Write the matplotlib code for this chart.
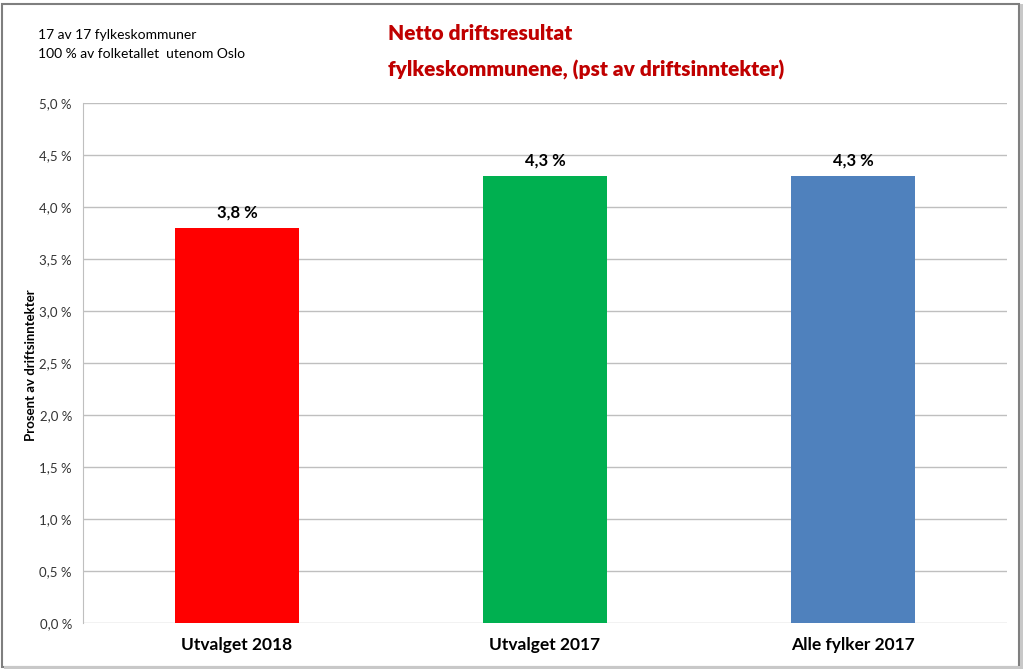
import numpy as np
import matplotlib.pyplot as plt
from matplotlib.patches import Rectangle
from matplotlib.ticker import FuncFormatter

categories = ['Utvalget 2018', 'Utvalget 2017', 'Alle fylker 2017']
values = [3.8, 4.3, 4.3]
bar_colors = ['#FF0000', '#00B050', '#4F81BD']
value_labels = ['3,8 %', '4,3 %', '4,3 %']

plt.rcParams['font.family'] = ['Lato', 'DejaVu Sans']

fig = plt.figure(figsize=(10.23, 6.69), dpi=100)
fig.set_facecolor('white')
ax = fig.add_axes([83 / 1023, 1 - 623 / 669, 924 / 1023, 520 / 669])

x = np.arange(len(categories))
ax.bar(x, values, width=0.4, color=bar_colors, zorder=3)
for xi, v, lab in zip(x, values, value_labels):
    ax.text(xi, v + 0.07, lab, ha='center', va='bottom', fontsize=12, fontweight='bold')

ax.set_xlim(-0.5, 2.5)
ax.set_ylim(0, 5.0)
ax.set_yticks(np.arange(0, 5.01, 0.5))
ax.yaxis.set_major_formatter(FuncFormatter(lambda v, p: f'{v:.1f} %'.replace('.', ',')))
ax.grid(axis='y', color='#BFBFBF', linewidth=1, zorder=0)
ax.set_xticks(x)
ax.set_xticklabels(categories, fontsize=12.5, fontweight='bold')
ax.tick_params(axis='x', length=0, pad=10)
ax.tick_params(axis='y', length=0, labelsize=9.5, labelcolor='#333333', pad=8)
for s in ['top', 'right', 'bottom']:
    ax.spines[s].set_visible(False)
ax.spines['left'].set_color('#BFBFBF')

ax.set_ylabel('Prosent av driftsinntekter', fontsize=9.5, fontweight='bold')
ax.yaxis.set_label_coords(-0.05, 0.496)

fig.text(388 / 1023, 1 - 33 / 669, 'Netto driftsresultat', color='#C00000', fontsize=15,
         fontweight='heavy', ha='left', va='center')
fig.text(388 / 1023, 1 - 70 / 669, 'fylkeskommunene, (pst av driftsinntekter)', color='#C00000',
         fontsize=15, fontweight='heavy', ha='left', va='center')
fig.text(38 / 1023, 1 - 35 / 669, '17 av 17 fylkeskommuner', fontsize=10, ha='left', va='center')
fig.text(38 / 1023, 1 - 54 / 669, '100 % av folketallet  utenom Oslo', fontsize=10, ha='left', va='center')

fig.patches.append(Rectangle((2 / 1023, 2 / 669), 1017 / 1023, 663 / 669, transform=fig.transFigure,
                             fill=False, edgecolor='#7F7F7F', linewidth=1.5))
fig.patches.append(Rectangle((1020 / 1023, 0), 3 / 1023, 665 / 669, transform=fig.transFigure,
                             color='#C8C8C8', linewidth=0))
fig.patches.append(Rectangle((4 / 1023, 0), 1019 / 1023, 3 / 669, transform=fig.transFigure,
                             color='#C8C8C8', linewidth=0))

fig.savefig('out.png', dpi=100)
